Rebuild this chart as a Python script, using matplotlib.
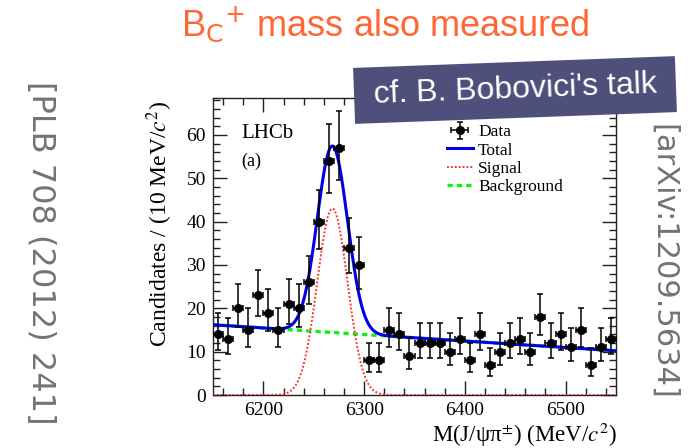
import numpy as np
import matplotlib
matplotlib.use("Agg")
import matplotlib.pyplot as plt
from matplotlib.patches import Rectangle
from matplotlib.ticker import MultipleLocator

# ---------------- data ----------------
bin_width = 10.0
mass_lo, mass_hi = 6150.0, 6550.0
bin_centers = np.arange(mass_lo + bin_width / 2, mass_hi, bin_width)
counts = [14, 13, 20, 15, 23, 19, 15, 21, 20, 26,
          40, 54, 57, 34, 30, 8, 8, 15, 14, 9,
          12, 12, 12, 10, 13, 8, 14, 7, 10, 12,
          13, 10, 18, 12, 14, 11, 15, 7, 11, 13]

# fit model parameters
sig_amp, sig_mean, sig_sigma = 43.0, 6268.5, 15.0
bkg_left, bkg_right = 16.2, 10.2

legend_labels = ["Data", "Total", "Signal", "Background"]

# ---------------- style ----------------
serif = ["Liberation Serif", "DejaVu Serif"]
sans = ["Liberation Sans", "DejaVu Sans"]
plt.rcParams["mathtext.fontset"] = "stix"

fig = plt.figure(figsize=(7.0, 4.48), dpi=100)
ax = fig.add_axes([213 / 700, 53 / 448, 403 / 700, 297 / 448])

n = np.asarray(counts, dtype=float)
# Poisson (Gehrels) asymmetric errors
err_hi = np.sqrt(n + 0.75) + 1.0
err_lo = n - n * (1 - 1 / (9 * n) - 1 / (3 * np.sqrt(n))) ** 3

m = np.linspace(mass_lo, mass_hi, 801)
bkg = bkg_left + (bkg_right - bkg_left) * (m - mass_lo) / (mass_hi - mass_lo)
sig = sig_amp * np.exp(-0.5 * ((m - sig_mean) / sig_sigma) ** 2)
tot = sig + bkg

l_bkg, = ax.plot(m, bkg, color="#11f011", lw=2.4, ls=(0, (1.6, 1.2)), zorder=2)
l_sig, = ax.plot(m, sig, color="#ff3333", lw=1.4, ls=(0, (1, 1)), zorder=3)
l_tot, = ax.plot(m, tot, color="#0000ee", lw=2.2, zorder=4)
eb = ax.errorbar(bin_centers, n, yerr=[err_lo, err_hi], xerr=bin_width / 2,
                 fmt="o", color="black", ms=5.5, elinewidth=1.1, capsize=2,
                 capthick=1.1, zorder=5)

ax.set_xlim(mass_lo, mass_hi)
ax.set_ylim(0, 68.5)
ax.xaxis.set_major_locator(MultipleLocator(100))
ax.xaxis.set_minor_locator(MultipleLocator(20))
ax.yaxis.set_major_locator(MultipleLocator(10))
ax.yaxis.set_minor_locator(MultipleLocator(2))
ax.tick_params(which="both", direction="in", top=True, right=True, width=1,
               colors="#222222", labelcolor="black")
ax.tick_params(which="major", length=10)
ax.tick_params(which="minor", length=5)
ax.tick_params(axis="y", pad=5, labelsize=14)
ax.tick_params(axis="x", pad=5, labelsize=14)
for lab in ax.get_xticklabels() + ax.get_yticklabels():
    lab.set_family(serif)
for sp in ax.spines.values():
    sp.set_color("#222222")
    sp.set_linewidth(1)

leg = ax.legend([eb, l_tot, l_sig, l_bkg], legend_labels,
                loc="upper left", bbox_to_anchor=(0.58, 0.912),
                frameon=False, prop={"family": serif, "size": 12.5},
                handlelength=1.5, handletextpad=0.3, labelspacing=0.12,
                borderaxespad=0.0, borderpad=0.0)

fig.text(160 / 700, 1 - 224 / 448, "Candidates / (10 MeV/$c^{2}$)", rotation=90,
         ha="center", va="center", fontsize=17, family=serif)
fig.text(617 / 700, 1 - 441.5 / 448, "M(J/ψπ$^{\\pm}$) (MeV/$c^{2}$)",
         ha="right", va="baseline", fontsize=16.5, family=serif)
fig.text(241 / 700, 1 - 133 / 448, "LHCb", ha="left", va="center",
         fontsize=15, family=serif)
fig.text(241 / 700, 1 - 161 / 448, "(a)", ha="left", va="center",
         fontsize=13, family=serif)

fig.text(181 / 700, 1 - 35 / 448, "B$_{\\mathrm{C}}$$^{+}$ mass also measured",
         ha="left", va="baseline", fontsize=26, color="#ff6633",
         family=sans, math_fontfamily="dejavusans")

# rotated note box (in inches so the rotation is not distorted)
box = Rectangle((5.15 - 1.61, 3.58 - 0.28), 3.22, 0.56, angle=2.1,
                rotation_point="center", facecolor="#4f4f7c", edgecolor="none",
                transform=fig.dpi_scale_trans, zorder=9)
fig.add_artist(box)
fig.text(515 / 700, 1 - 90 / 448, "cf. B. Bobovici's talk", rotation=2.1,
         rotation_mode="anchor", ha="center", va="center", fontsize=23,
         color="white", family=sans, zorder=10)

fig.text(40 / 700, 1 - 253 / 448, "[PLB 708 (2012) 241]", rotation=-90,
         ha="center", va="center", fontsize=23, color="#737373",
         family="DejaVu Sans")
fig.text(663 / 700, 1 - 262 / 448, "[arXiv:1209.5634]", rotation=-90,
         ha="center", va="center", fontsize=22, color="#737373",
         family="DejaVu Sans")

fig.savefig("out.png", dpi=100)
